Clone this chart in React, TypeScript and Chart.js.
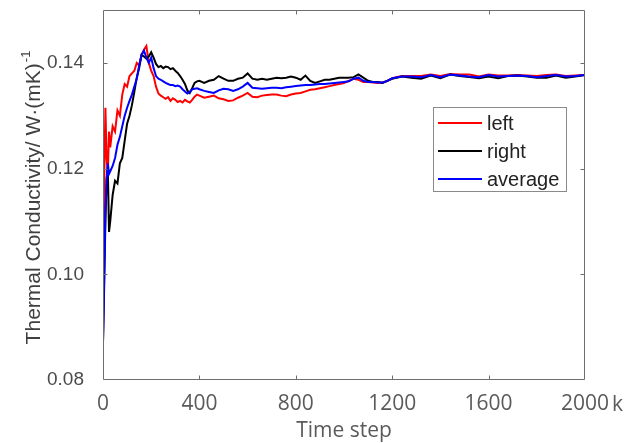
import { useEffect, useRef } from "react";
import { Chart, registerables } from "chart.js";

Chart.register(...registerables);

// Time step (k)
const steps = [
  0, 5, 10, 15, 20, 25, 30, 40, 50, 60, 70, 80, 90, 100, 110, 120, 130, 140, 150, 160, 170, 180, 190, 200,
  210, 220, 230, 240, 250, 260, 270, 280, 290, 300, 310, 320, 330, 340, 350, 360, 370, 380, 390, 400,
  420, 440, 460, 480, 500, 520, 540, 560, 580, 600, 620, 640, 660, 680, 700, 720, 740, 760, 780, 800,
  820, 840, 860, 880, 900, 920, 940, 960, 980, 1000, 1020, 1040, 1060, 1080, 1100, 1120, 1140, 1160, 1180, 1200,
  1240, 1280, 1320, 1360, 1400, 1440, 1480, 1520, 1560, 1600, 1640, 1680, 1720, 1760, 1800, 1840, 1880, 1920, 1960, 2000,
];

const leftValues = [
  0.087, 0.118, 0.1315, 0.122, 0.119, 0.127, 0.124, 0.128, 0.127, 0.131, 0.13, 0.134, 0.136, 0.1355, 0.1375, 0.138,
  0.1385, 0.14, 0.1395, 0.1415, 0.1425, 0.1432, 0.14, 0.1385, 0.1375, 0.1355, 0.1342, 0.1338, 0.1335, 0.1332, 0.1335,
  0.1328, 0.1333, 0.133, 0.1326, 0.1328, 0.1325, 0.133, 0.1327, 0.1325, 0.133, 0.1336, 0.134, 0.1338,
  0.1334, 0.1336, 0.1338, 0.1333, 0.1331, 0.1328, 0.1329, 0.1334, 0.1338, 0.1343,
  0.1336, 0.1335, 0.1338, 0.1339, 0.134, 0.134, 0.1338, 0.1337, 0.134, 0.1342,
  0.1343, 0.1346, 0.1349, 0.135, 0.1352, 0.1354, 0.1356, 0.1358, 0.136, 0.1362,
  0.1366, 0.137, 0.1368, 0.1364, 0.1364, 0.1363, 0.1362, 0.1363, 0.1366, 0.1371,
  0.1375, 0.1375, 0.1375, 0.1378, 0.1375, 0.1379, 0.1378, 0.1378, 0.1374, 0.1378,
  0.1376, 0.1376, 0.1377, 0.1376, 0.1375, 0.1377, 0.1378, 0.1375, 0.1376, 0.1377,
];

const rightValues = [
  0.087, 0.098, 0.11, 0.118, 0.12, 0.108, 0.11, 0.115, 0.1177, 0.1172, 0.121, 0.122, 0.1253, 0.1285, 0.13, 0.132,
  0.1345, 0.1372, 0.139, 0.1415, 0.1412, 0.1408, 0.1412, 0.142, 0.141, 0.1398, 0.1392, 0.1394, 0.139, 0.1393, 0.1392,
  0.1388, 0.139, 0.1385, 0.1381, 0.1375, 0.1368, 0.136, 0.1348, 0.1343, 0.1352, 0.1362, 0.1365, 0.1366,
  0.1362, 0.1366, 0.1368, 0.1375, 0.137, 0.1366, 0.1366, 0.137, 0.1372, 0.138,
  0.137, 0.1368, 0.137, 0.1368, 0.137, 0.1372, 0.1371, 0.1372, 0.1374, 0.1372,
  0.1368, 0.1376, 0.1366, 0.1362, 0.1365, 0.1368, 0.1368, 0.137, 0.1372, 0.1372,
  0.1372, 0.1373, 0.1378, 0.1372, 0.1366, 0.1364, 0.1364, 0.1362, 0.1366, 0.137,
  0.1374, 0.1372, 0.137, 0.1376, 0.1371, 0.1378, 0.1375, 0.1373, 0.1371, 0.1374,
  0.1371, 0.1375, 0.1376, 0.1374, 0.1372, 0.1372, 0.1376, 0.1372, 0.1374, 0.1377,
];

const averageValues = [
  0.087, 0.1, 0.112, 0.118, 0.121, 0.119, 0.1195, 0.1205, 0.122, 0.1245, 0.126, 0.128, 0.13, 0.1315, 0.1328, 0.134,
  0.1355, 0.137, 0.1395, 0.1415, 0.1423, 0.141, 0.14, 0.141, 0.139, 0.1375, 0.137, 0.1368, 0.1365, 0.1362, 0.136,
  0.1358, 0.1358, 0.1356, 0.1357, 0.1355, 0.135, 0.1346, 0.1342, 0.1345, 0.135, 0.1351, 0.1352, 0.135,
  0.1347, 0.1345, 0.1343, 0.1348, 0.1351, 0.135, 0.1347, 0.135, 0.1355, 0.1362,
  0.1353, 0.1352, 0.1351, 0.1352, 0.1353, 0.1353, 0.1352, 0.1354, 0.1355, 0.1356,
  0.1357, 0.1358, 0.1358, 0.1359, 0.136, 0.136, 0.1361, 0.1362, 0.1363, 0.1364,
  0.1365, 0.137, 0.1372, 0.1366, 0.1364, 0.1364, 0.1363, 0.1363, 0.1366, 0.1371,
  0.1374, 0.1374, 0.1373, 0.1377, 0.1373, 0.1378, 0.1376, 0.1374, 0.1373, 0.1377,
  0.1374, 0.1375, 0.1376, 0.1375, 0.1373, 0.1375, 0.1377, 0.1374, 0.1375, 0.1377,
];

const xTicks = [0, 400, 800, 1200, 1600, 2000];
const yTicks = [0.08, 0.1, 0.12, 0.14];
const seriesNames = ["left", "right", "average"];
const seriesColors = ["#ff0000", "#000000", "#0000ff"];
const xTitle = "Time step";
const xUnit = "k";
const yTitle = "Thermal Conductivity/ W·(mK)";
const yTitleSup = "-1";

export default function App() {
  const ref = useRef<HTMLCanvasElement>(null);

  useEffect(() => {
    document.body.style.margin = "0";
    const canvas = ref.current;
    if (!canvas) return;

    const overlay = {
      id: "overlay",
      afterDraw(chart: any) {
        const ctx = chart.ctx as CanvasRenderingContext2D;
        const { left, right, top, bottom } = chart.chartArea;
        const xs = chart.scales.x;
        const ys = chart.scales.y;
        ctx.save();
        // axes box
        ctx.strokeStyle = "#6e6e6e";
        ctx.lineWidth = 1;
        const L = Math.round(left) + 0.5;
        const R = Math.round(right) - 0.5;
        const T = Math.round(top) + 0.5;
        const B = Math.round(bottom) - 0.5;
        ctx.beginPath();
        ctx.moveTo(L, T);
        ctx.lineTo(R, T);
        ctx.lineTo(R, B);
        ctx.lineTo(L, B);
        ctx.closePath();
        ctx.stroke();
        // inward ticks
        ctx.beginPath();
        xTicks.forEach((v) => {
          const px = Math.round(xs.getPixelForValue(v)) + 0.5;
          if (px <= L + 1 || px >= R - 1) return;
          ctx.moveTo(px, B);
          ctx.lineTo(px, B - 4);
          ctx.moveTo(px, T);
          ctx.lineTo(px, T + 4);
        });
        yTicks.forEach((v) => {
          const py = Math.round(ys.getPixelForValue(v)) + 0.5;
          if (py >= B - 1 || py <= T + 1) return;
          ctx.moveTo(L, py);
          ctx.lineTo(L + 4, py);
          ctx.moveTo(R, py);
          ctx.lineTo(R - 4, py);
        });
        ctx.stroke();

        // x unit "k"
        ctx.fillStyle = "#5a5a5a";
        ctx.font = "21px 'Open Sans'";
        ctx.textAlign = "left";
        ctx.textBaseline = "alphabetic";
        ctx.fillText(xUnit, 612, 411);

        // x title
        ctx.textAlign = "center";
        ctx.fillText(xTitle, (left + right) / 2, 437);

        // y title (rotated)
        ctx.save();
        ctx.translate(40, 198);
        ctx.rotate(-Math.PI / 2);
        ctx.fillStyle = "#404040";
        ctx.font = "21px 'Liberation Sans'";
        const wMain = ctx.measureText(yTitle).width;
        ctx.font = "13px 'Liberation Sans'";
        const wSup = ctx.measureText(yTitleSup).width;
        const start = -(wMain + wSup) / 2;
        ctx.textAlign = "left";
        ctx.font = "21px 'Liberation Sans'";
        ctx.fillText(yTitle, start, 0);
        ctx.font = "13px 'Liberation Sans'";
        ctx.fillText(yTitleSup, start + wMain + 1, -10);
        ctx.restore();

        // legend
        const lx = 433.5, ly = 107.5, lw = 133, lh = 84;
        ctx.fillStyle = "#ffffff";
        ctx.fillRect(lx, ly, lw, lh);
        ctx.strokeStyle = "#8a8a8a";
        ctx.lineWidth = 1;
        ctx.strokeRect(lx, ly, lw, lh);
        const rowsY = [123, 151, 179];
        ctx.font = "20px 'Liberation Sans'";
        ctx.textAlign = "left";
        ctx.textBaseline = "middle";
        seriesNames.forEach((name, i) => {
          ctx.strokeStyle = seriesColors[i];
          ctx.lineWidth = 2;
          ctx.beginPath();
          ctx.moveTo(438, rowsY[i]);
          ctx.lineTo(482, rowsY[i]);
          ctx.stroke();
          ctx.fillStyle = "#222222";
          ctx.fillText(name, 487, rowsY[i] + 1);
        });
        ctx.restore();
      },
    };

    const seriesValues = [leftValues, rightValues, averageValues];
    const chart = new Chart(canvas, {
      type: "line",
      data: {
        datasets: seriesNames.map((name, i) => ({
          label: name,
          data: steps.map((s, j) => ({ x: s, y: seriesValues[i][j] })),
          borderColor: seriesColors[i],
          backgroundColor: seriesColors[i],
          borderWidth: 2,
          pointRadius: 0,
          tension: 0,
          fill: false,
          order: 2 - i,
        })),
      },
      options: {
        animation: false,
        responsive: false,
        devicePixelRatio: 1,
        layout: { padding: { left: 0, right: 47, top: 10, bottom: 0 } },
        plugins: {
          legend: { display: false },
          tooltip: { enabled: false },
        },
        scales: {
          x: {
            type: "linear",
            min: 0,
            max: 2000,
            grid: { display: false },
            border: { display: false },
            afterBuildTicks: (scale: any) => {
              scale.ticks = xTicks.map((v) => ({ value: v }));
            },
            afterFit: (scale: any) => {
              scale.height = 63;
              scale.paddingLeft = 0;
              scale.paddingRight = 0;
              scale.paddingTop = 0;
              scale.paddingBottom = 0;
            },
            ticks: {
              autoSkip: false,
              maxRotation: 0,
              padding: 3,
              color: "#5a5a5a",
              font: { family: "'Open Sans'", size: 21 },
              callback: (v: any) => String(v),
            },
          },
          y: {
            type: "linear",
            min: 0.08,
            max: 0.15,
            grid: { display: false },
            border: { display: false },
            afterBuildTicks: (scale: any) => {
              scale.ticks = yTicks.map((v) => ({ value: v }));
            },
            afterFit: (scale: any) => {
              scale.width = 103;
              scale.paddingLeft = 0;
              scale.paddingRight = 0;
              scale.paddingTop = 0;
              scale.paddingBottom = 0;
            },
            ticks: {
              autoSkip: false,
              padding: 11,
              color: "#4a4a4a",
              font: { family: "'Liberation Sans'", size: 19 },
              callback: (v: any) => Number(v).toFixed(2),
            },
          },
        },
      },
      plugins: [overlay],
    });
    return () => chart.destroy();
  }, []);

  return (
    <canvas
      ref={ref}
      width={632}
      height={443}
      style={{ display: "block", width: 632, height: 443 }}
    />
  );
}
